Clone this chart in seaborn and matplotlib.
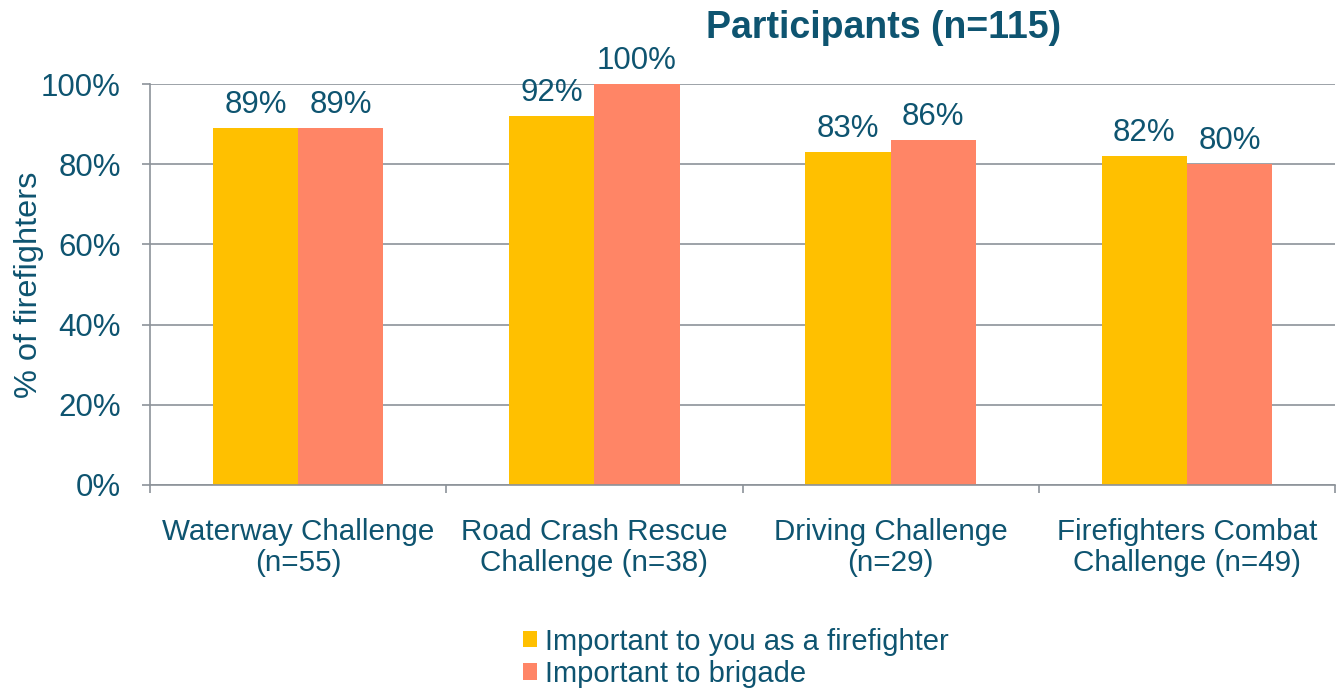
import pandas as pd
import numpy as np
import matplotlib.pyplot as plt
import seaborn as sns

categories = ['Waterway Challenge\n(n=55)', 'Road Crash Rescue\nChallenge (n=38)',
              'Driving Challenge\n(n=29)', 'Firefighters Combat\nChallenge (n=49)']
series = ['Important to you as a firefighter', 'Important to brigade']
you_vals = [0.89, 0.92, 0.83, 0.82]
brigade_vals = [0.89, 1.00, 0.86, 0.80]
yticks = [0, 0.2, 0.4, 0.6, 0.8, 1.0]

text_col = '#0E5470'
grid_col = '#8C9299'
colors = ['#FFC000', '#FF8566']

df = pd.DataFrame({
    'cat': categories * 2,
    'series': [series[0]] * 4 + [series[1]] * 4,
    'val': you_vals + brigade_vals,
})

sns.set_theme(style='white')
plt.rcParams['font.family'] = ['Liberation Sans', 'DejaVu Sans']

fig = plt.figure(figsize=(13.42, 6.88), dpi=100)
ax = fig.add_axes([150/1342, 1 - 485/688, 1185/1342, 401/688])

sns.barplot(data=df, x='cat', y='val', hue='series', palette=colors,
            width=0.575, saturation=1, linewidth=0, ax=ax, legend=True)

ax.set_ylim(0, 1)
ax.set_xlim(-0.5, 3.5)
ax.set_yticks(yticks)
ax.set_yticklabels([f'{int(round(t*100))}%' for t in yticks])
ax.yaxis.grid(True, color=grid_col, linewidth=1.2)
ax.set_axisbelow(True)
for s in ['top', 'right']:
    ax.spines[s].set_visible(False)
for s in ['left', 'bottom']:
    ax.spines[s].set_color(grid_col)
    ax.spines[s].set_linewidth(1.2)

ax.tick_params(axis='y', which='major', left=True, length=6, width=1.2,
               color=grid_col, labelsize=22.5, labelcolor=text_col, pad=15)
ax.tick_params(axis='x', which='major', bottom=False, labelsize=21.3,
               labelcolor=text_col, pad=18)
ax.set_xticks(np.arange(-0.5, 4.0, 1.0), minor=True)
ax.tick_params(axis='x', which='minor', bottom=True, length=6, width=1.2,
               color=grid_col)
for lab in ax.get_xticklabels():
    lab.set_linespacing(1.1)

ax.set_xlabel('')
ax.set_ylabel('% of firefighters', fontsize=23.4, color=text_col, labelpad=-2)

for cont in ax.containers:
    ax.bar_label(cont, labels=[f'{int(round(v*100))}%' for v in cont.datavalues],
                 padding=6, fontsize=22.5, color=text_col)

fig.text(884/1342, 1 - 28/688, 'Participants (n=115)', ha='center', va='center',
         fontsize=27, fontweight='bold', color=text_col)

handles, labels = ax.get_legend_handles_labels()
ax.get_legend().remove()
fig.legend(handles, labels, loc='upper left', bbox_to_anchor=(508/1342, 1 - 613/688),
           frameon=False, fontsize=21, labelcolor=text_col, handlelength=0.48,
           handleheight=0.48, handletextpad=0.3, labelspacing=0.15, borderpad=0)

fig.savefig('out.png', dpi=100)
